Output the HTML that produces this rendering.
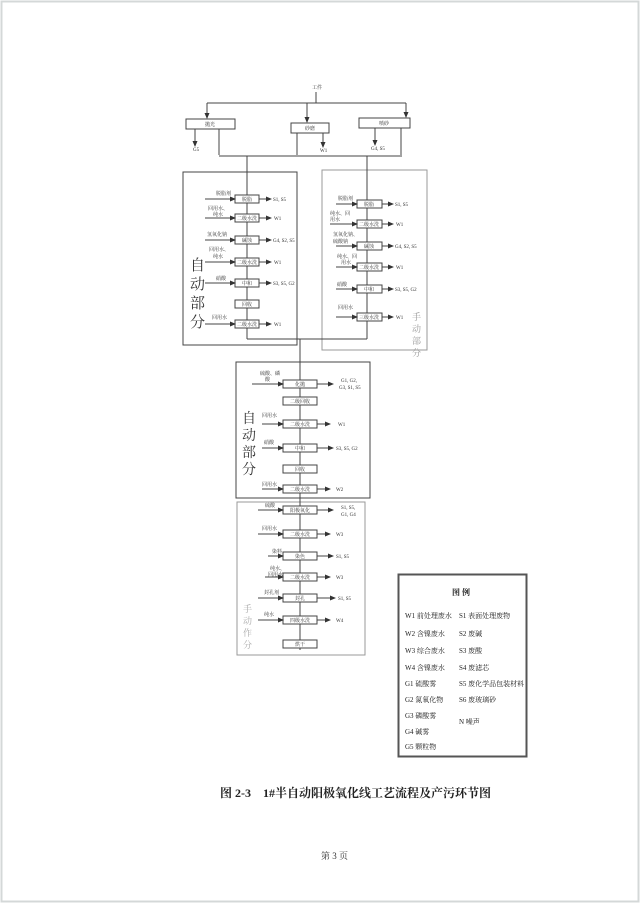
<!DOCTYPE html>
<html><head><meta charset="utf-8"><style>
html,body{margin:0;padding:0;background:#fff;}
svg{display:block;}
text{font-family:"Liberation Serif","Noto Serif CJK SC","Noto Sans CJK SC",serif;fill:#333;}
.s{font-size:5px;}
.b{font-size:5px;text-anchor:middle;}
.lg{font-size:7px;fill:#222;}
</style></head><body>
<svg width="640" height="903" viewBox="0 0 640 903" xmlns="http://www.w3.org/2000/svg">
<defs><marker id="a" markerWidth="6" markerHeight="6" refX="5" refY="3" orient="auto" markerUnits="userSpaceOnUse"><path d="M0,0.5 L6,3 L0,5.5z" fill="#333"/></marker></defs>
<rect x="1.5" y="1.5" width="637" height="900" fill="#fff" stroke="#d4d8d8" stroke-width="2"/>
<g stroke="#444" stroke-width="1" fill="none">
<path d="M316,92 V103"/>
<path d="M207,103 H406"/>
<path d="M207,103 V118" marker-end="url(#a)"/>
<path d="M307,103 V122" marker-end="url(#a)"/>
<path d="M406,103 V117" marker-end="url(#a)"/>
<rect x="186" y="119" width="49" height="10" fill="#fff"/>
<rect x="291" y="123" width="38" height="10" fill="#fff"/>
<rect x="359" y="118" width="51" height="10" fill="#fff"/>
<path d="M195,129 V146" marker-end="url(#a)"/>
<path d="M219,129 V155"/>
<path d="M297,133 V155"/>
<path d="M323,133 V147" marker-end="url(#a)"/>
<path d="M375,128 V145" marker-end="url(#a)"/>
<path d="M401,128 V155"/>
<path d="M219,156 H402"/>
<rect x="183" y="172" width="114" height="173"/>
<rect x="322" y="170" width="105" height="180" stroke="#999"/>
<rect x="236" y="362" width="134" height="136"/>
<rect x="237" y="502" width="128" height="153" stroke="#999"/>
<path d="M247,156 V339"/>
<path d="M367,156 V339"/>
<path d="M247,339 H367"/>
<path d="M300,339 V650"/>
</g>
<g stroke="#444" stroke-width="1" fill="#fff">
<rect x="235" y="195" width="24" height="8"/>
<rect x="235" y="214" width="24" height="8"/>
<rect x="235" y="236" width="24" height="8"/>
<rect x="235" y="258" width="24" height="8"/>
<rect x="235" y="279" width="24" height="8"/>
<rect x="235" y="300" width="24" height="8"/>
<rect x="235" y="320" width="24" height="8"/>
<rect x="357" y="200" width="25" height="8"/>
<rect x="357" y="220" width="25" height="8"/>
<rect x="357" y="242" width="25" height="8"/>
<rect x="357" y="263" width="25" height="8"/>
<rect x="357" y="285" width="25" height="8"/>
<rect x="357" y="313" width="25" height="8"/>
<rect x="283" y="380" width="34" height="8"/>
<rect x="283" y="397" width="34" height="8"/>
<rect x="283" y="420" width="34" height="8"/>
<rect x="283" y="444" width="34" height="8"/>
<rect x="283" y="465" width="34" height="8"/>
<rect x="283" y="485" width="34" height="8"/>
<rect x="283" y="506" width="34" height="8"/>
<rect x="283" y="530" width="34" height="8"/>
<rect x="283" y="552" width="34" height="8"/>
<rect x="283" y="573" width="34" height="8"/>
<rect x="283" y="594" width="34" height="8"/>
<rect x="283" y="616" width="34" height="8"/>
<rect x="283" y="640" width="34" height="8"/>
</g>
<g stroke="#444" stroke-width="1" fill="none">
<path d="M205,199 H235" marker-end="url(#a)"/><path d="M259,199 H271" marker-end="url(#a)"/>
<path d="M205,218 H235" marker-end="url(#a)"/><path d="M259,218 H271" marker-end="url(#a)"/>
<path d="M205,240 H235" marker-end="url(#a)"/><path d="M259,240 H271" marker-end="url(#a)"/>
<path d="M205,262 H235" marker-end="url(#a)"/><path d="M259,262 H271" marker-end="url(#a)"/>
<path d="M205,283 H235" marker-end="url(#a)"/><path d="M259,283 H271" marker-end="url(#a)"/>
<path d="M205,324 H235" marker-end="url(#a)"/><path d="M259,324 H271" marker-end="url(#a)"/>
<path d="M336,204 H357" marker-end="url(#a)"/><path d="M382,204 H393" marker-end="url(#a)"/>
<path d="M330,224 H357" marker-end="url(#a)"/><path d="M382,224 H393" marker-end="url(#a)"/>
<path d="M336,246 H357" marker-end="url(#a)"/><path d="M382,246 H393" marker-end="url(#a)"/>
<path d="M336,267 H357" marker-end="url(#a)"/><path d="M382,267 H393" marker-end="url(#a)"/>
<path d="M336,289 H357" marker-end="url(#a)"/><path d="M382,289 H393" marker-end="url(#a)"/>
<path d="M336,317 H357" marker-end="url(#a)"/><path d="M382,317 H393" marker-end="url(#a)"/>
<path d="M252,384 H283" marker-end="url(#a)"/><path d="M317,384 H333" marker-end="url(#a)"/>
<path d="M262,424 H283" marker-end="url(#a)"/><path d="M317,424 H330" marker-end="url(#a)"/>
<path d="M262,448 H283" marker-end="url(#a)"/><path d="M317,448 H333" marker-end="url(#a)"/>
<path d="M262,489 H283" marker-end="url(#a)"/><path d="M317,489 H330" marker-end="url(#a)"/>
<path d="M258,510 H283" marker-end="url(#a)"/><path d="M317,510 H333" marker-end="url(#a)"/>
<path d="M258,534 H283" marker-end="url(#a)"/><path d="M317,534 H330" marker-end="url(#a)"/>
<path d="M268,556 H283" marker-end="url(#a)"/><path d="M317,556 H333" marker-end="url(#a)"/>
<path d="M265,577 H283" marker-end="url(#a)"/><path d="M317,577 H330" marker-end="url(#a)"/>
<path d="M258,598 H283" marker-end="url(#a)"/><path d="M317,598 H335" marker-end="url(#a)"/>
<path d="M258,620 H283" marker-end="url(#a)"/><path d="M317,620 H330" marker-end="url(#a)"/>
</g>
<text class="s" x="312" y="89">工件</text>
<text class="b" x="210" y="126">抛光</text>
<text class="b" x="310" y="130">砂磨</text>
<text class="b" x="384" y="125">喷砂</text>
<text class="s" x="193" y="151">G5</text>
<text class="s" x="320" y="152">W1</text>
<text class="s" x="371" y="150">G4, S5</text>
<text class="b" x="247" y="201">脱脂</text>
<text class="b" x="247" y="220">二级水洗</text>
<text class="b" x="247" y="242">碱蚀</text>
<text class="b" x="247" y="264">二级水洗</text>
<text class="b" x="247" y="285">中和</text>
<text class="b" x="247" y="306">回收</text>
<text class="b" x="247" y="326">二级水洗</text>
<text class="s" x="216" y="195">脱脂剂</text>
<text class="s" x="208" y="210">回用水、</text><text class="s" x="213" y="216">纯水</text>
<text class="s" x="207" y="236">氢氧化钠</text>
<text class="s" x="209" y="251">回用水、</text><text class="s" x="213" y="258">纯水</text>
<text class="s" x="216" y="280">硝酸</text>
<text class="s" x="212" y="319">回用水</text>
<text class="s" x="273" y="201">S1, S5</text>
<text class="s" x="274" y="220">W1</text>
<text class="s" x="273" y="242">G4, S2, S5</text>
<text class="s" x="274" y="264">W1</text>
<text class="s" x="273" y="285">S3, S5, G2</text>
<text class="s" x="274" y="326">W1</text>
<text style="font-size:15px" x="190" y="270">自</text>
<text style="font-size:15px" x="190" y="289">动</text>
<text style="font-size:15px" x="190" y="308">部</text>
<text style="font-size:15px" x="190" y="327">分</text>
<text class="b" x="369" y="206">脱脂</text>
<text class="b" x="369" y="226">二级水洗</text>
<text class="b" x="369" y="248">碱蚀</text>
<text class="b" x="369" y="269">二级水洗</text>
<text class="b" x="369" y="291">中和</text>
<text class="b" x="369" y="319">三级水洗</text>
<text class="s" x="338" y="200">脱脂剂</text>
<text class="s" x="330" y="215">纯水、回</text><text class="s" x="330" y="221">用水</text>
<text class="s" x="333" y="236">氢氧化钠、</text><text class="s" x="333" y="243">硫酸钠</text>
<text class="s" x="337" y="258">纯水、回</text><text class="s" x="341" y="264">用水</text>
<text class="s" x="337" y="286">硝酸</text>
<text class="s" x="338" y="309">回用水</text>
<text class="s" x="395" y="206">S1, S5</text>
<text class="s" x="396" y="226">W1</text>
<text class="s" x="395" y="248">G4, S2, S5</text>
<text class="s" x="396" y="269">W1</text>
<text class="s" x="395" y="291">S3, S5, G2</text>
<text class="s" x="396" y="319">W1</text>
<text style="font-size:9px;fill:#999" x="412" y="320">手</text>
<text style="font-size:9px;fill:#999" x="412" y="332">动</text>
<text style="font-size:9px;fill:#999" x="412" y="344">部</text>
<text style="font-size:9px;fill:#999" x="412" y="356">分</text>
<text class="b" x="300" y="386">化抛</text>
<text class="b" x="300" y="403">二级回收</text>
<text class="b" x="300" y="426">二级水洗</text>
<text class="b" x="300" y="450">中和</text>
<text class="b" x="300" y="471">回收</text>
<text class="b" x="300" y="491">二级水洗</text>
<text class="b" x="300" y="512">阳极氧化</text>
<text class="b" x="300" y="536">二级水洗</text>
<text class="b" x="300" y="558">染色</text>
<text class="b" x="300" y="579">二级水洗</text>
<text class="b" x="300" y="600">封孔</text>
<text class="b" x="300" y="622">四级水洗</text>
<text class="b" x="300" y="646">烘干</text>
<text class="s" x="260" y="375">硫酸、磷</text><text class="s" x="265" y="381">酸</text>
<text class="s" x="262" y="417">回用水</text>
<text class="s" x="264" y="444">硝酸</text>
<text class="s" x="262" y="486">回用水</text>
<text class="s" x="265" y="507">硫酸</text>
<text class="s" x="262" y="530">回用水</text>
<text class="s" x="272" y="553">染料</text>
<text class="s" x="270" y="570">纯水、</text><text class="s" x="268" y="576">回用水</text>
<text class="s" x="264" y="594">封孔剂</text>
<text class="s" x="264" y="616">纯水</text>
<text class="s" x="341" y="382">G1, G2,</text><text class="s" x="339" y="389">G3, S1, S5</text>
<text class="s" x="338" y="426">W1</text>
<text class="s" x="336" y="450">S3, S5, G2</text>
<text class="s" x="336" y="491">W2</text>
<text class="s" x="341" y="509">S1, S5,</text><text class="s" x="341" y="516">G1, G4</text>
<text class="s" x="336" y="536">W3</text>
<text class="s" x="336" y="558">S1, S5</text>
<text class="s" x="336" y="579">W3</text>
<text class="s" x="338" y="600">S1, S5</text>
<text class="s" x="336" y="622">W4</text>
<text style="font-size:14px" x="242" y="423">自</text>
<text style="font-size:14px" x="242" y="440">动</text>
<text style="font-size:14px" x="242" y="457">部</text>
<text style="font-size:14px" x="242" y="474">分</text>
<text style="font-size:9px;fill:#aaa" x="243" y="612">手</text>
<text style="font-size:9px;fill:#aaa" x="243" y="624">动</text>
<text style="font-size:9px;fill:#aaa" x="243" y="636">作</text>
<text style="font-size:9px;fill:#aaa" x="243" y="648">分</text>
<rect x="398.5" y="574.5" width="128" height="182" fill="#fff" stroke="#555" stroke-width="2"/>
<text x="452" y="595" style="font-size:8px;font-weight:bold;fill:#222">图 例</text>
<text class="lg" x="405" y="618">W1 前处理废水</text><text class="lg" x="459" y="618">S1 表面处理废物</text>
<text class="lg" x="405" y="636">W2 含镍废水</text><text class="lg" x="459" y="636">S2 废碱</text>
<text class="lg" x="405" y="653">W3 综合废水</text><text class="lg" x="459" y="653">S3 废酸</text>
<text class="lg" x="405" y="670">W4 含镍废水</text><text class="lg" x="459" y="670">S4 废滤芯</text>
<text class="lg" x="405" y="686">G1 硫酸雾</text><text class="lg" x="459" y="686">S5 废化学品包装材料</text>
<text class="lg" x="405" y="702">G2 氮氧化物</text><text class="lg" x="459" y="702">S6 废玻璃砂</text>
<text class="lg" x="405" y="718">G3 磷酸雾</text><text class="lg" x="459" y="724">N 噪声</text>
<text class="lg" x="405" y="734">G4 碱雾</text>
<text class="lg" x="405" y="749">G5 颗粒物</text>
<text x="220" y="797" style="font-size:12px;font-weight:bold;fill:#222">图 2-3　1#半自动阳极氧化线工艺流程及产污环节图</text>
<text x="321" y="859" style="font-size:9px;fill:#333">第 3 页</text>
</svg>
</body></html>
